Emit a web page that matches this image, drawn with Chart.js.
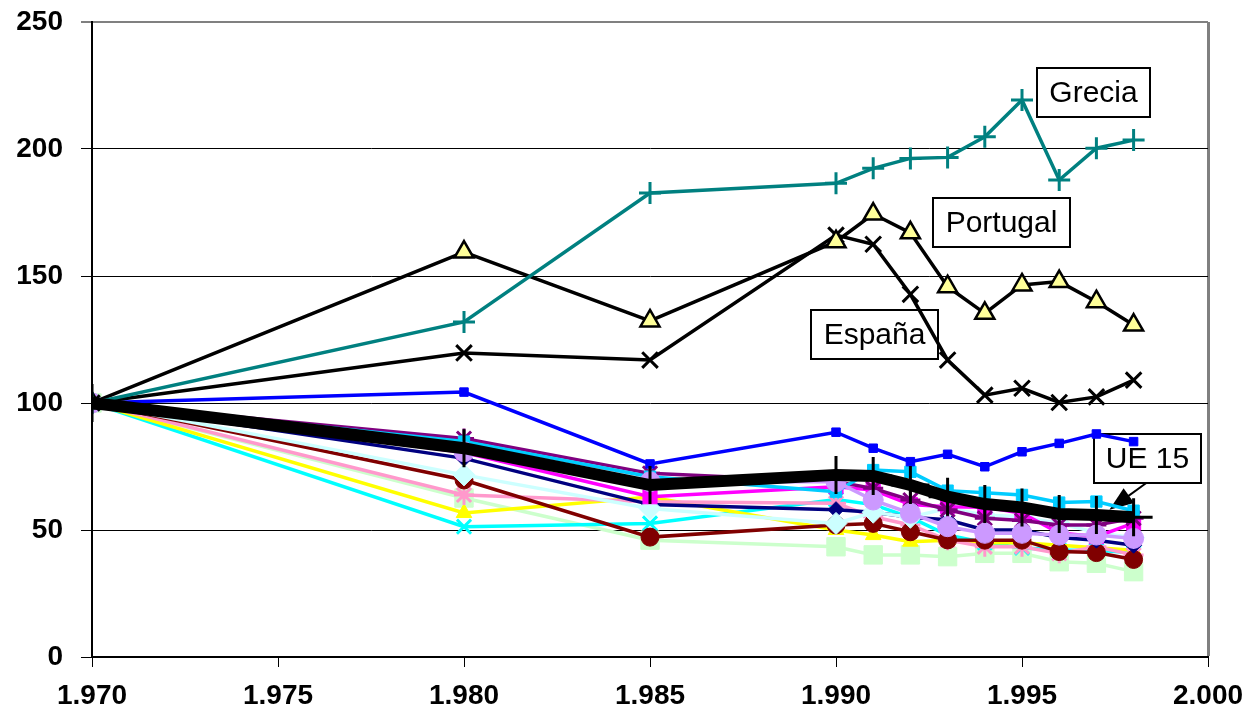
<!DOCTYPE html>
<html>
<head>
<meta charset="utf-8">
<script src="https://cdn.jsdelivr.net/npm/chart.js@4"></script>
<style>
  body { margin: 0; background: #fff; }
</style>
</head>
<body>
<canvas id="grafico" width="1249" height="715"></canvas>
<script>
// Datos (índice 1970 = 100)
const anios = [1970, 1980, 1985, 1990, 1991, 1992, 1993, 1994, 1995, 1996, 1997, 1998];

const grecia   = [100, 131.9, 182.7, 186.5, 192.4, 196.3, 196.7, 204.8, 219.3, 187.8, 200.3, 203.5];
const portugal = [100, 159.4, 132.3, 163.5, 174.4, 167.0, 145.8, 135.3, 146.5, 147.8, 139.9, 130.7];
const espana   = [100, 119.7, 116.9, 166.1, 162.5, 142.8, 116.9, 103.1, 105.8, 100.2, 102.4, 109.0];
const ue15     = [100, 82.2, 67.7, 71.7, 71.3, 67.7, 63.1, 60.2, 58.9, 56.3, 55.9, 55.0];

const serieAzul     = [100, 104.3, 76.0, 88.5, 82.2, 76.9, 79.8, 74.9, 80.8, 84.1, 87.8, 84.8];
const serieCeleste  = [100, 84.8, 71.0, 65.1, 73.6, 72.9, 65.5, 64.7, 63.8, 60.8, 61.2, 57.6];
const serieMagenta  = [100, 80.5, 63.1, 67.0, 65.7, 60.0, 59.2, 59.0, 56.6, 48.8, 47.4, 52.7];
const seriePurpura  = [100, 86.0, 72.3, 69.0, 66.4, 61.8, 58.0, 54.6, 53.7, 52.0, 52.0, 54.6];
const serieLavanda  = [100, 80.8, 69.0, 69.0, 61.8, 56.6, 51.3, 48.7, 48.7, 48.0, 48.0, 46.7];
const serieCianClaro= [100, 71.7, 58.5, 52.6, 57.0, 55.0, 58.5, 55.9, 55.2, 52.6, 49.0, 47.0];
const serieMarino   = [100, 78.2, 60.0, 58.0, 57.0, 55.0, 54.0, 50.0, 50.0, 47.0, 46.0, 44.0];
const serieGranate  = [100, 69.7, 47.2, 52.0, 52.6, 49.3, 46.1, 46.0, 46.0, 41.5, 41.1, 38.4];
const serieAmarilla = [100, 56.7, 63.0, 50.0, 48.0, 45.4, 46.0, 45.0, 45.0, 44.0, 43.0, 42.0];
const serieRosa     = [100, 63.8, 61.1, 60.5, 55.2, 52.0, 46.0, 43.4, 43.4, 40.8, 43.4, 40.2];
const serieCian     = [100, 51.3, 52.6, 62.0, 60.0, 55.0, 48.0, 45.0, 43.0, 42.0, 42.0, 41.0];
const serieVerde    = [100, 62.6, 46.0, 43.4, 40.2, 40.2, 39.5, 40.8, 40.8, 37.5, 36.9, 33.6];

// Etiquetas (x año, y valor de la esquina superior izquierda)
const etiquetas = [
  { texto: 'Grecia',   x: 1995.4,  y: 231.8, w: 113, h: 49 },
  { texto: 'Portugal', x: 1992.6,  y: 180.8, w: 137, h: 49 },
  { texto: 'España',   x: 1989.33, y: 136.6, w: 127, h: 49 },
  { texto: 'UE 15',    x: 1996.94, y: 87.7,  w: 107, h: 49 }
];
const flechaUE = { desde: [1998.35, 68.6], hasta: [1997.35, 58.0] };

function puntos(valores) {
  return anios.map((a, i) => ({ x: a, y: valores[i] }));
}

function serie(label, valores, color, estilo, radio, extra) {
  return Object.assign({
    label,
    data: puntos(valores),
    borderColor: color,
    backgroundColor: color,
    borderWidth: 3.5,
    pointStyle: estilo,
    pointRadius: radio,
    pointBackgroundColor: color,
    pointBorderColor: color,
    pointBorderWidth: 1,
    tension: 0
  }, extra || {});
}

// cajas de texto por debajo de las series, como en el original
const pluginEtiquetas = {
  id: 'etiquetas',
  beforeDatasetsDraw(chart) {
    const ctx = chart.ctx;
    const sx = chart.scales.x, sy = chart.scales.y;
    ctx.save();
    ctx.font = '30px "Liberation Sans", Arial, sans-serif';
    ctx.textAlign = 'center';
    ctx.textBaseline = 'middle';
    etiquetas.forEach(e => {
      const px = Math.round(sx.getPixelForValue(e.x));
      const py = Math.round(sy.getPixelForValue(e.y));
      ctx.fillStyle = '#fff';
      ctx.fillRect(px, py, e.w, e.h);
      ctx.strokeStyle = '#000';
      ctx.lineWidth = 2;
      ctx.strokeRect(px, py, e.w, e.h);
      ctx.fillStyle = '#000';
      ctx.fillText(e.texto, px + e.w / 2, py + e.h / 2 + 1);
    });

    // flecha UE 15
    const x1 = sx.getPixelForValue(flechaUE.desde[0]), y1 = sy.getPixelForValue(flechaUE.desde[1]);
    const x2 = sx.getPixelForValue(flechaUE.hasta[0]), y2 = sy.getPixelForValue(flechaUE.hasta[1]);
    const ang = Math.atan2(y2 - y1, x2 - x1);
    ctx.strokeStyle = '#000';
    ctx.lineWidth = 2;
    ctx.beginPath();
    ctx.moveTo(x1, y1);
    ctx.lineTo(x2 - 18 * Math.cos(ang), y2 - 18 * Math.sin(ang));
    ctx.stroke();
    ctx.fillStyle = '#000';
    ctx.beginPath();
    ctx.moveTo(x2, y2);
    ctx.lineTo(x2 - 24 * Math.cos(ang) + 9 * Math.sin(ang), y2 - 24 * Math.sin(ang) - 9 * Math.cos(ang));
    ctx.lineTo(x2 - 24 * Math.cos(ang) - 9 * Math.sin(ang), y2 - 24 * Math.sin(ang) + 9 * Math.cos(ang));
    ctx.closePath();
    ctx.fill();
    ctx.restore();
  }
};

const fuenteEje = { family: '"Liberation Sans", Arial, sans-serif', size: 28, weight: 'bold' };

new Chart(document.getElementById('grafico'), {
  type: 'line',
  data: {
    datasets: [
      serie('UE 15', ue15, '#000000', 'cross', 19, { borderWidth: 12, pointBorderWidth: 3 }),
      serie('Grecia', grecia, '#008080', 'cross', 11, { pointBorderWidth: 3 }),
      serie('Portugal', portugal, '#000000', 'triangle', 11, { pointBackgroundColor: '#FFFF99', pointBorderWidth: 2.5 }),
      serie('España', espana, '#000000', 'crossRot', 11, { pointBorderWidth: 3 }),
      serie('Serie azul', serieAzul, '#0000FF', 'rect', 6),
      serie('Serie lavanda', serieLavanda, '#CC99FF', 'circle', 10),
      serie('Serie celeste', serieCeleste, '#00CCFF', 'rect', 8),
      serie('Serie púrpura', seriePurpura, '#800080', 'star', 10, { pointBorderWidth: 3 }),
      serie('Serie magenta', serieMagenta, '#FF00FF', 'rect', 10),
      serie('Serie cian claro', serieCianClaro, '#CCFFFF', 'rectRot', 11),
      serie('Serie marino', serieMarino, '#000080', 'rectRot', 8),
      serie('Serie granate', serieGranate, '#800000', 'circle', 9),
      serie('Serie rosa', serieRosa, '#FF99CC', 'star', 10, { pointBorderWidth: 3 }),
      serie('Serie amarilla', serieAmarilla, '#FFFF00', 'triangle', 9),
      serie('Serie cian', serieCian, '#00FFFF', 'crossRot', 10, { pointBorderWidth: 3 }),
      serie('Serie verde', serieVerde, '#CCFFCC', 'rect', 13)
    ]
  },
  options: {
    responsive: false,
    animation: false,
    layout: { padding: { top: 22, right: 41, left: 0, bottom: 0 } },
    scales: {
      x: {
        type: 'linear',
        min: 1970,
        max: 2000,
        afterFit: s => { s.height = 58; s.paddingLeft = 0; s.paddingRight = 0; },
        ticks: {
          stepSize: 5,
          color: '#000',
          font: fuenteEje,
          padding: 12,
          maxRotation: 0,
          callback: v => (v / 1000).toFixed(3)
        },
        grid: {
          color: c => c.tick && c.tick.value === 2000 ? '#808080' : 'rgba(0,0,0,0)',
          lineWidth: c => c.tick && c.tick.value === 2000 ? 3 : 1,
          tickColor: '#000',
          tickWidth: 1,
          tickLength: 10
        },
        border: { color: '#000', width: 2 }
      },
      y: {
        min: 0,
        max: 250,
        afterFit: s => { s.width = 92; s.paddingTop = 0; s.paddingBottom = 0; },
        ticks: {
          stepSize: 50,
          color: '#000',
          font: fuenteEje,
          padding: 18
        },
        grid: {
          color: c => c.tick && c.tick.value === 250 ? '#808080' : '#000',
          lineWidth: c => c.tick && c.tick.value === 250 ? 2 : 1,
          tickColor: '#000',
          tickWidth: 1,
          tickLength: 11
        },
        border: { color: '#000', width: 2 }
      }
    },
    plugins: {
      legend: { display: false },
      tooltip: { enabled: false },
      title: { display: false }
    }
  },
  plugins: [pluginEtiquetas]
});
</script>
</body>
</html>
